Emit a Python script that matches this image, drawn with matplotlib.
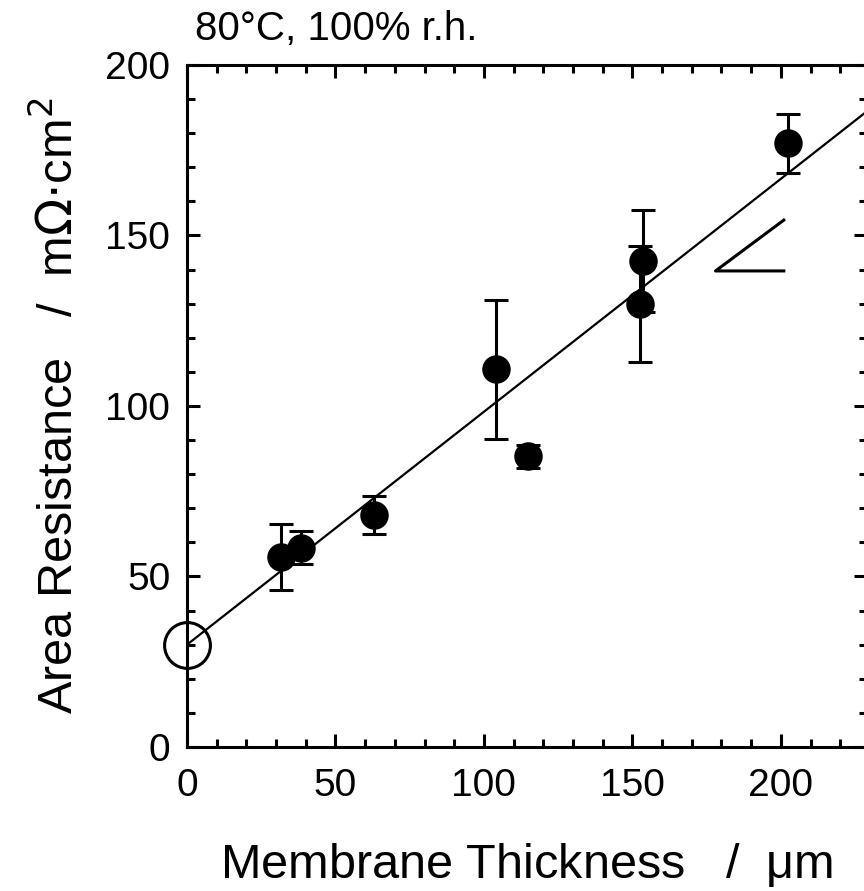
import matplotlib
matplotlib.use("Agg")
import matplotlib.pyplot as plt

# 측정값 (두께 um, 면적저항 mOhm cm2, 오차)
thickness = [31.5, 38.5, 63, 104, 115, 153.5, 152.5, 202.5]
resistance = [55.8, 58.4, 68.0, 110.7, 85.2, 142.5, 130.0, 177.0]
error = [9.7, 4.8, 5.6, 20.4, 3.5, 15.0, 17.0, 8.7]

# 피팅 직선: 절편 30, 기울기 0.683
fit_x = [0, 230]
fit_y = [30, 30 + 0.683 * 230]

# 기울기 표시용 삼각형
tri_x = [201, 178, 201]
tri_y = [154.5, 139.6, 139.6]

plt.rcParams['font.family'] = ['Liberation Sans', 'DejaVu Sans']

fig = plt.figure(figsize=(8.64, 8.91), dpi=100)
ax = fig.add_axes([0.2164, 0.1616, 0.787, 0.7655])

ax.plot(fit_x, fit_y, color='black', lw=1.6, zorder=2)
ax.plot(tri_x, tri_y, color='black', lw=2.2, zorder=2)
ax.errorbar(thickness, resistance, yerr=error, fmt='o', color='black',
            markersize=19.5, elinewidth=2.2, capsize=8.5, capthick=2.2, zorder=3)
ax.plot([0], [30], 'o', markersize=33, markerfacecolor='none',
        markeredgecolor='black', markeredgewidth=2.2, clip_on=False, zorder=4)

ax.set_xlim(0, 229)
ax.set_ylim(0, 200)
ax.set_xticks([0, 50, 100, 150, 200])
ax.set_xticks(range(0, 230, 10), minor=True)
ax.set_yticks([0, 50, 100, 150, 200])
ax.set_yticks(range(0, 201, 10), minor=True)
ax.tick_params(which='both', direction='in', top=True, right=True, width=2.2)
ax.tick_params(which='major', length=9.5, labelsize=28)
ax.tick_params(which='minor', length=5.5)
ax.tick_params(axis='x', pad=15)
ax.tick_params(axis='y', pad=12)
for s in ax.spines.values():
    s.set_linewidth(2.2)

ax.set_xlabel(r'Membrane Thickness   /  $\mathregular{\mu}$m', fontsize=35, labelpad=27)
ax.set_ylabel(r'Area Resistance   /  m$\Omega$$\cdot$cm$^2$', fontsize=35, labelpad=16)

fig.text(0.226, 0.968, '80°C, 100% r.h.', fontsize=29,
         family=['Liberation Sans Narrow', 'Liberation Sans', 'DejaVu Sans'],
         ha='left', va='center')

plt.savefig('out.png', dpi=100)
